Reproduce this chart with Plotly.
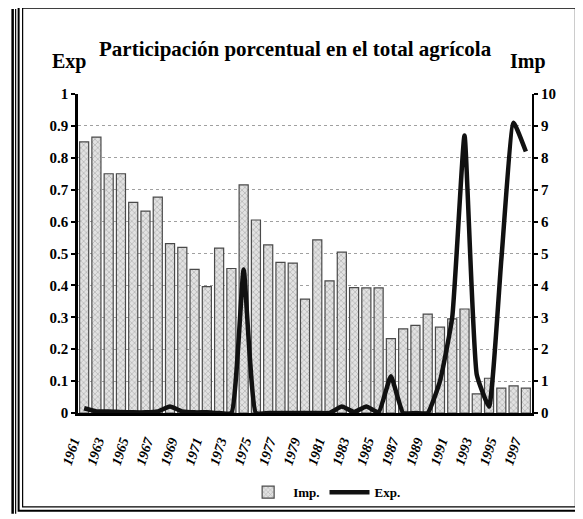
import plotly.graph_objects as go

years = list(range(1961, 1998))
imp_values = [8.5, 8.65, 7.5, 7.5, 6.6, 6.33, 6.77, 5.31, 5.19, 4.5,
              3.96, 5.17, 4.53, 7.15, 6.05, 5.27, 4.72, 4.7, 3.57, 5.43,
              4.14, 5.04, 3.93, 3.92, 3.92, 2.33, 2.64, 2.75, 3.1, 2.69,
              2.95, 3.26, 0.6, 1.09, 0.78, 0.85, 0.78]
exp_values = [0.015, 0.005, 0.005, 0.003, 0.002, 0.002, 0.005, 0.02, 0.005, 0.002,
              0.002, 0.0, 0.0, 0.45, 0.0, 0.0, 0.0, 0.0, 0.0, 0.0,
              0.0, 0.02, 0.003, 0.02, 0.002, 0.115, 0.0, 0.0, 0.0, 0.1,
              0.3, 0.87, 0.12, 0.02, 0.48, 0.91, 0.82]
tick_years = years[::2]
left_ticks = [0, 0.1, 0.2, 0.3, 0.4, 0.5, 0.6, 0.7, 0.8, 0.9, 1]
left_labels = ["0", "0.1", "0.2", "0.3", "0.4", "0.5", "0.6", "0.7", "0.8", "0.9", "1"]
right_ticks = list(range(0, 11))

title_text = "Participación porcentual en el total agrícola"
SERIF = "Liberation Serif"

# page has an 8px body margin: figure pixel = reference pixel - 8
OFF = 8
W, H = 575, 511
L, R, T, B = 77.5 - OFF, 532.5 - OFF, 94 - OFF, 417 - OFF


def px(x):
    return (x - OFF - L) / (R - L)


def py(y):
    return (B - (y - OFF)) / (B - T)


fig = go.Figure()

fig.add_trace(go.Bar(
    x=years, y=imp_values, name="Imp.", yaxis="y",
    width=0.74,
    marker=dict(color="#e2e2e2",
                line=dict(color="#4a4a4a", width=1.2),
                pattern=dict(shape="x", fgcolor="#7a7a7a", size=4, solidity=0.3)),
))
fig.add_trace(go.Scatter(
    x=years, y=exp_values, name="Exp.", yaxis="y2",
    mode="lines", line=dict(color="#111111", width=4.5, shape="spline", smoothing=0.4),
))

fig.update_layout(
    width=W, height=H,
    margin=dict(l=L, r=W - R, t=T, b=H - B, pad=0),
    paper_bgcolor="white", plot_bgcolor="white",
    font=dict(family=SERIF, color="black", size=13),
    showlegend=True,
    legend=dict(orientation="h", x=px(243), y=py(482), xanchor="left", yanchor="top",
                font=dict(family=SERIF, size=13, weight="bold"),
                itemwidth=40, tracegroupgap=0, bgcolor="rgba(0,0,0,0)"),
    xaxis=dict(range=[1960.5, 1997.5], tickvals=tick_years, ticktext=[str(y) for y in tick_years],
               tickangle=-72, showgrid=False, zeroline=False,
               showline=True, linecolor="black", linewidth=2.5,
               ticks="", ticklabelshift=-11, ticklabelstandoff=12,
               tickfont=dict(family=SERIF, size=14, weight="bold", style="italic")),
    yaxis=dict(range=[0, 10], tickvals=right_ticks, side="right",
               showgrid=True, gridcolor="#a0a0a0", griddash="dot", gridwidth=1.2,
               zeroline=False, showline=True, linecolor="black", linewidth=2,
               ticks="outside", ticklen=4, tickwidth=2, tickcolor="black",
               tickfont=dict(family=SERIF, size=15, weight="bold")),
    yaxis2=dict(range=[0, 1], tickvals=left_ticks, ticktext=left_labels,
                overlaying="y", side="left",
                showgrid=False, zeroline=False, showline=True, linecolor="black", linewidth=2.5,
                ticks="outside", ticklen=4, tickwidth=2, tickcolor="black",
                tickfont=dict(family=SERIF, size=15, weight="bold")),
    bargap=0.26,
)

fig.add_annotation(text=title_text, xref="paper", yref="paper", x=px(295), y=py(48),
                   xanchor="center", yanchor="middle",
                   showarrow=False, font=dict(family=SERIF, size=21, weight="bold"))
fig.add_annotation(text="Exp", xref="paper", yref="paper", x=px(68), y=py(61),
                   xanchor="center", yanchor="middle",
                   showarrow=False, font=dict(family=SERIF, size=20, weight="bold"))
fig.add_annotation(text="Imp", xref="paper", yref="paper", x=px(528), y=py(61),
                   xanchor="center", yanchor="middle",
                   showarrow=False, font=dict(family=SERIF, size=20, weight="bold"))

# frames (double borders)
for (x0, y0, x1, y1, w) in [(18, 3, 580, 516, 2), (22, 7, 576, 512, 1.2)]:
    fig.add_shape(type="rect", xref="paper", yref="paper",
                  x0=px(x0), x1=px(x1), y0=py(y0), y1=py(y1),
                  line=dict(color="black", width=w), layer="above")
for (xv, w) in [(12, 2.5), (15, 1.2)]:
    fig.add_shape(type="line", xref="paper", yref="paper",
                  x0=px(xv), x1=px(xv), y0=py(8), y1=py(519),
                  line=dict(color="black", width=w))

fig.write_html("out.html")
